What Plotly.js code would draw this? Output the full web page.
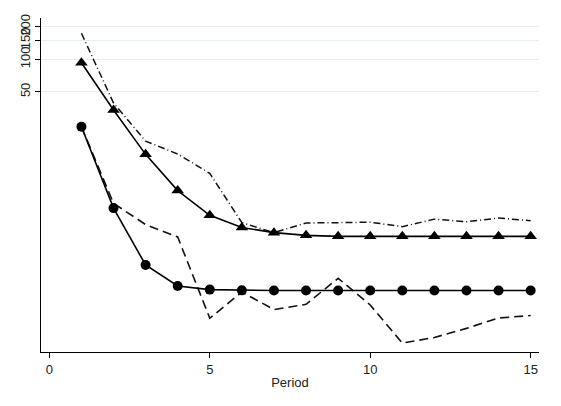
<!DOCTYPE html>
<html>
<head>
<meta charset="utf-8">
<script src="https://cdn.plot.ly/plotly-3.0.1.min.js"></script>
<style>html,body{margin:0;padding:0;background:#fff;}#chart{width:561px;height:406px;}</style>
</head>
<body>
<div id="chart"></div>
<script>
const periods = [1,2,3,4,5,6,7,8,9,10,11,12,13,14,15];
const triangleSeries = [93, 34, 13.2, 6.1, 3.6, 2.78, 2.49, 2.35, 2.3, 2.3, 2.3, 2.3, 2.3, 2.3, 2.3];
const circleSeries = [23.8, 4.2, 1.25, 0.8, 0.74, 0.728, 0.725, 0.725, 0.725, 0.725, 0.725, 0.725, 0.725, 0.725, 0.725];
const dashDotSeries = [174, 39.4, 17.5, 13.3, 8.8, 3.08, 2.49, 3.06, 3.08, 3.11, 2.83, 3.32, 3.14, 3.4, 3.21];
const dashSeries = [23.8, 4.65, 2.96, 2.27, 0.402, 0.703, 0.484, 0.541, 0.942, 0.533, 0.237, 0.267, 0.324, 0.404, 0.426];
const yTickVals = [50, 100, 150, 200];
const yTickText = ['50', '100', '150', '200'];
const xTickVals = [0, 5, 10, 15];

const traces = [
  {x: periods, y: dashDotSeries, mode: 'lines', line: {color: '#111', width: 1.5, dash: '7px,3px,1px,3px'}},
  {x: periods, y: dashSeries, mode: 'lines', line: {color: '#111', width: 1.6, dash: '9px,5px'}},
  {x: periods, y: triangleSeries, mode: 'lines+markers', line: {color: '#000', width: 1.6},
   marker: {symbol: 'triangle-up', size: 11, color: '#000'}},
  {x: periods, y: circleSeries, mode: 'lines+markers', line: {color: '#000', width: 1.6},
   marker: {symbol: 'circle', size: 10, color: '#000'}}
];

const layout = {
  width: 561, height: 406,
  margin: {l: 41, r: 22, t: 18, b: 54},
  paper_bgcolor: '#fff', plot_bgcolor: '#fff',
  showlegend: false,
  font: {family: 'Liberation Sans, Arial, sans-serif', color: '#222', size: 13},
  xaxis: {
    range: [-0.26, 15.26],
    tickvals: xTickVals,
    ticks: 'outside', ticklen: 5, tickcolor: '#000',
    showline: true, linecolor: '#000', linewidth: 1.2,
    showgrid: false, zeroline: false,
    tickfont: {size: 13, color: '#222'},
    title: {text: 'Period', font: {size: 13, color: '#222'}, standoff: 2}
  },
  yaxis: {
    type: 'log',
    range: [-0.708, 2.382],
    tickvals: yTickVals, ticktext: yTickText,
    tickangle: -90,
    ticks: 'outside', ticklen: 5, tickcolor: '#000',
    showline: true, linecolor: '#000', linewidth: 1.2,
    showgrid: true, gridcolor: '#e6eeee', gridwidth: 1,
    zeroline: false,
    tickfont: {size: 13, color: '#222'}
  }
};

Plotly.newPlot('chart', traces, layout, {displayModeBar: false, staticPlot: true});
</script>
</body>
</html>
